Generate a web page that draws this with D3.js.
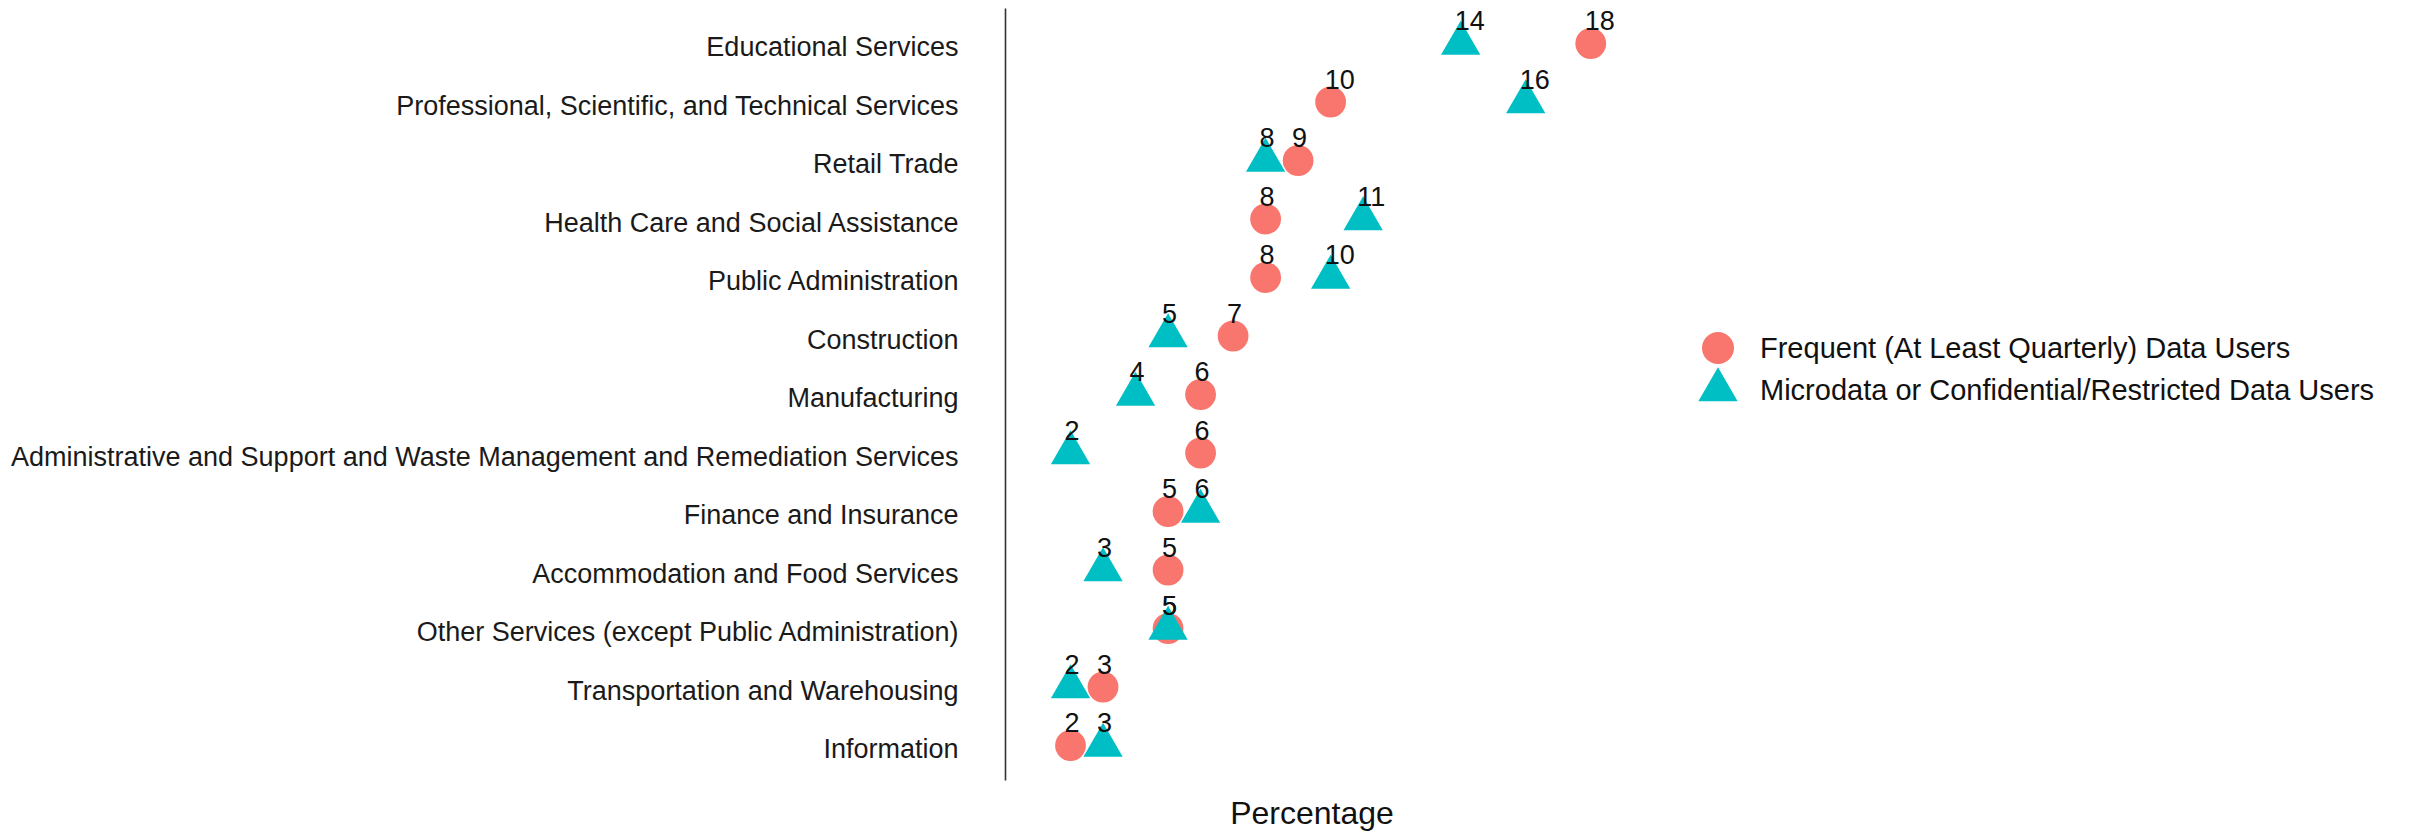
<!DOCTYPE html>
<html>
<head>
<meta charset="utf-8">
<script src="https://cdn.jsdelivr.net/npm/d3@7"></script>
<style>
  body { margin: 0; background: #fff; }
  svg { font-family: "Liberation Sans", Arial, sans-serif; }
</style>
</head>
<body>
<svg id="svg" width="2420" height="834"></svg>
<script>
// industries, top to bottom
const industries = [
  "Educational Services",
  "Professional, Scientific, and Technical Services",
  "Retail Trade",
  "Health Care and Social Assistance",
  "Public Administration",
  "Construction",
  "Manufacturing",
  "Administrative and Support and Waste Management and Remediation Services",
  "Finance and Insurance",
  "Accommodation and Food Services",
  "Other Services (except Public Administration)",
  "Transportation and Warehousing",
  "Information"
];
const frequentUsers = [18, 10, 9, 8, 8, 7, 6, 6, 5, 5, 5, 3, 2];
const microdataUsers = [14, 16, 8, 11, 10, 5, 4, 2, 6, 3, 5, 2, 3];
const seriesNames = [
  "Frequent (At Least Quarterly) Data Users",
  "Microdata or Confidential/Restricted Data Users"
];
const xTitle = "Percentage";

const colors = ["#F8766D", "#00BFC4"];

let svg = d3.select("svg");
let panel = { left: 1005.5, right: 1620, top: 8.4, bottom: 780.6 };

let x = d3.scaleLinear().domain([0, 18.9]).range([panel.left, panel.right]);
let y = d3.scalePoint().domain(industries).range([panel.top, panel.bottom]).padding(0.6);

// y axis: line + labels only
let yAxis = svg.append("g")
  .attr("transform", "translate(" + panel.left + ",0)")
  .call(d3.axisLeft(y).tickSize(0).tickPadding(47));
yAxis.select(".domain")
  .attr("d", "M0," + panel.top + "V" + panel.bottom)
  .attr("stroke", "#333")
  .attr("stroke-width", 1.6);
yAxis.selectAll("text")
  .attr("font-size", 27)
  .attr("font-family", "Liberation Sans, Arial, sans-serif")
  .attr("fill", "#1a1a1a")
  .attr("dy", 12);

let points = [];
industries.forEach((name, i) => {
  points.push({ name, value: frequentUsers[i], s: 0 });
  points.push({ name, value: microdataUsers[i], s: 1 });
});

let tri = d3.symbol().type(d3.symbolTriangle).size(669);

let g = svg.append("g");
points.forEach(d => {
  if (d.s == 0) {
    g.append("circle")
      .attr("cx", x(d.value))
      .attr("cy", y(d.name))
      .attr("r", 15.4)
      .attr("fill", colors[0]);
  } else {
    g.append("path")
      .attr("d", tri)
      .attr("transform", "translate(" + x(d.value) + "," + y(d.name) + ")")
      .attr("fill", colors[1]);
  }
});

// value labels
svg.append("g").selectAll("text")
  .data(points)
  .enter().append("text")
    .attr("x", d => x(d.value) - 6)
    .attr("y", d => y(d.name) - 13.5)
    .attr("font-size", 27)
    .attr("fill", "#111")
    .text(d => d.value);

// x title
svg.append("text")
  .attr("x", 1312)
  .attr("y", 824)
  .attr("text-anchor", "middle")
  .attr("font-size", 32)
  .attr("fill", "#111")
  .text(xTitle);

// legend
let legend = svg.append("g").attr("transform", "translate(1718,0)");
let legendY = [348, 390];
legend.append("circle")
  .attr("cx", 0).attr("cy", legendY[0]).attr("r", 16)
  .attr("fill", colors[0]);
legend.append("path")
  .attr("d", tri)
  .attr("transform", "translate(0," + legendY[1] + ")")
  .attr("fill", colors[1]);
seriesNames.forEach((s, i) => {
  legend.append("text")
    .attr("x", 42)
    .attr("y", legendY[i] + 10)
    .attr("font-size", 29)
    .attr("fill", "#111")
    .text(s);
});
</script>
</body>
</html>
